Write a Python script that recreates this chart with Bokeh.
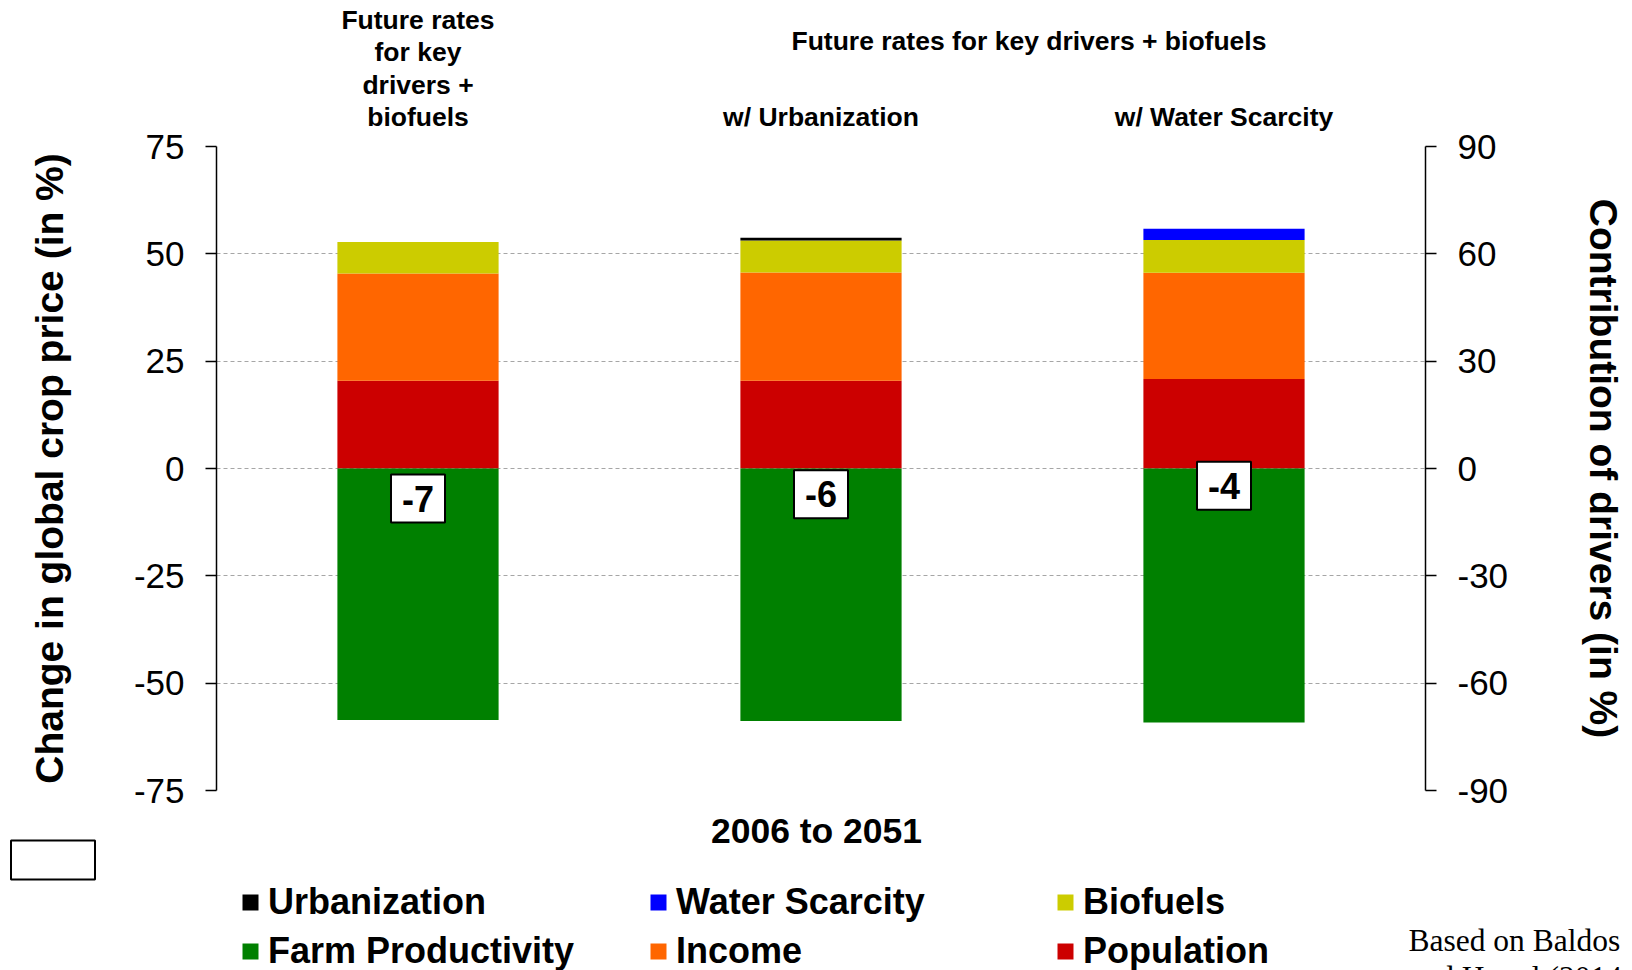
from bokeh.plotting import figure
from bokeh.layouts import column
from bokeh.models import (Range1d, LinearAxis, FixedTicker, Label, Legend, LegendItem,
                          ColumnDataSource, BoxAnnotation)
from bokeh.core.properties import value
from bokeh.embed import file_html
from bokeh.resources import INLINE

# ---------------- data ----------------
scenarios = ["Future rates for key drivers + biofuels", "w/ Urbanization", "w/ Water Scarcity"]
top_labels = ["Future rates\nfor key\ndrivers +\nbiofuels", "w/ Urbanization", "w/ Water Scarcity"]
group_header = "Future rates for key drivers + biofuels"
period = "2006 to 2051"
source_note = ["Based on Baldos", "and Hertel (2014a)"]
left_title = "Change in global crop price (in %)"
right_title = "Contribution of drivers (in %)"

# contributions of drivers (in %), right axis
population = [24.5, 24.5, 25.0]
income = [30.0, 30.3, 29.7]
biofuels = [8.8, 8.9, 9.2]
urbanization = [0.0, 0.8, 0.0]
water_scarcity = [0.0, 0.0, 3.1]
farm_productivity = [-70.3, -70.6, -71.0]
# net change in global crop price (in %), left axis
net_price = [-7, -6, -4]

price_ticks = [-75, -50, -25, 0, 25, 50, 75]
contrib_ticks = [-90, -60, -30, 0, 30, 60, 90]

driver_names = ["Population", "Income", "Biofuels", "Urbanization", "Water Scarcity",
                "Farm Productivity"]
driver_colors = ["#CC0000", "#FF6600", "#CCCC00", "#000000", "#0000FF", "#008000"]

FONT = "Liberation Sans"
W = 1632
ML, MR = 216, 207          # left / right borders of the plotting frame
TOP_H, MAIN_H = 132, 680   # heights of the header strip and of the main chart
BOT_Y0 = TOP_H + MAIN_H    # page y where the lower strip starts

src = ColumnDataSource(dict(cat=scenarios, Population=population, Income=income,
                            Biofuels=biofuels, Urbanization=urbanization,
                            Water=water_scarcity, Farm=farm_productivity))

# ---------------- main chart ----------------
p = figure(width=W, height=MAIN_H, x_range=scenarios, y_range=Range1d(-90, 90),
           y_axis_location="right", x_axis_location=None,
           output_backend="svg", toolbar_location=None,
           min_border_left=ML, min_border_right=MR, min_border_top=14,
           min_border_bottom=22, outline_line_color=None,
           background_fill_color="white", border_fill_color="white")
p.extra_y_ranges = {"price": Range1d(-75, 75)}

right_ax = p.right[0]
left_ax = LinearAxis(y_range_name="price", ticker=FixedTicker(ticks=price_ticks),
                     major_label_overrides={t: str(t) for t in price_ticks})
p.add_layout(left_ax, "left")
right_ax.ticker = FixedTicker(ticks=contrib_ticks)
right_ax.major_label_overrides = {t: str(t) for t in contrib_ticks}

for ax in (left_ax, right_ax):
    ax.axis_line_color = "black"
    ax.axis_line_width = 1.5
    ax.major_tick_line_color = "black"
    ax.major_tick_line_width = 1.5
    ax.major_tick_out = 11
    ax.major_tick_in = 0
    ax.minor_tick_line_color = None
    ax.major_label_standoff = 21
    ax.major_label_text_font = FONT
    ax.major_label_text_font_size = "35px"
    ax.major_label_text_color = "black"

# axis titles (outer axes carrying only the title, centred a little low as in the original)
lt = LinearAxis(y_range_name="price", ticker=FixedTicker(ticks=[]), bounds=(-75, 61),
                axis_label=left_title)
rt = LinearAxis(ticker=FixedTicker(ticks=[]), bounds=(-90, 80), axis_label=right_title)
for ax, st in ((lt, 60), (rt, 70)):
    ax.axis_line_color = None
    ax.major_tick_line_color = None
    ax.minor_tick_line_color = None
    ax.major_tick_out = 0
    ax.minor_tick_out = 0
    ax.major_label_standoff = 0
    ax.axis_label_text_font = FONT
    ax.axis_label_text_font_size = "39px"
    ax.axis_label_text_font_style = "bold"
    ax.axis_label_text_color = "black"
    ax.axis_label_standoff = st
p.add_layout(lt, "left")
p.add_layout(rt, "right")

p.xgrid.visible = False
p.ygrid.ticker = FixedTicker(ticks=contrib_ticks)
p.ygrid.grid_line_color = "#a6a6a6"
p.ygrid.grid_line_dash = "4 3"
p.ygrid.grid_line_width = 1

stackers = ["Population", "Income", "Biofuels", "Urbanization", "Water"]
p.vbar_stack(stackers, x="cat", width=0.4, color=driver_colors[:5], line_color=None,
             source=src)
p.vbar(x="cat", top="Farm", bottom=0, width=0.4, fill_color=driver_colors[5],
       line_color=None, source=src)

# net price change labels (positioned at the net value on the price axis)
for i, v in enumerate(net_price):
    p.add_layout(Label(x=i + 0.5, y=v, y_range_name="price", text=str(v), text_font=FONT,
                       text_font_size="36px", text_font_style="bold", text_color="black",
                       text_align="center", text_baseline="middle",
                       background_fill_color="white", border_line_color="black",
                       border_line_width=2, padding=11))

# ---------------- headers above the chart ----------------
top = figure(width=W, height=TOP_H, x_range=p.x_range, y_range=Range1d(TOP_H, 0),
             x_axis_location=None, y_axis_location=None, output_backend="svg",
             toolbar_location=None, min_border_left=ML, min_border_right=MR,
             min_border_top=0, min_border_bottom=0, outline_line_color=None)
top.grid.visible = False
top.text(x=scenarios, y=[68, 116, 116], text=top_labels, text_font=value(FONT),
         text_font_size="26.5px", text_font_style="bold", text_color="black",
         text_align="center", text_baseline="middle", text_line_height=1.07)
top.text(x=[2.016], y=[40], text=[group_header], text_font=value(FONT),
         text_font_size="26.5px", text_font_style="bold", text_color="black",
         text_align="center", text_baseline="middle")

# ---------------- axis title, legend and note below ----------------
bot = figure(width=W, height=970 - BOT_Y0, x_range=Range1d(0, W),
             y_range=Range1d(970, BOT_Y0),
             x_axis_location=None, y_axis_location=None, output_backend="svg",
             toolbar_location=None, min_border_left=0, min_border_right=0,
             min_border_top=0, min_border_bottom=0, outline_line_color=None)
bot.frame_align = False
bot.grid.visible = False
bot.text(x=[816], y=[830], text=[period], text_font=value(FONT), text_font_size="35.5px",
         text_font_style="bold", text_color="black", text_align="center",
         text_baseline="middle")
bot.text(x=[1408, 1408], y=[940, 977], text=source_note,
         text_font=value("Liberation Serif"), text_font_size="31.5px",
         text_color="black", text_align="left", text_baseline="middle")
bot.add_layout(BoxAnnotation(left=10.5, right=94.5, top=840, bottom=879,
                             fill_color="white", fill_alpha=1, line_color="black",
                             line_alpha=1, line_width=2))

# legend proxies (hidden renderers, only used for the legend swatches)
proxy = {}
for name, c in zip(driver_names, driver_colors):
    proxy[name] = bot.vbar(x=[0], top=[0], width=1, fill_color=c, line_color=None,
                           visible=False)

cols = [["Urbanization", "Farm Productivity"],
        ["Water Scarcity", "Income"],
        ["Biofuels", "Population"]]
xs = [240, 648, 1055]
for x0, col in zip(xs, cols):
    leg = Legend(items=[LegendItem(label=n, renderers=[proxy[n]]) for n in col],
                 location=(x0, -2), orientation="vertical", click_policy="none",
                 glyph_width=20, glyph_height=20, label_standoff=8, spacing=7,
                 padding=0, margin=0, border_line_color=None, background_fill_alpha=0,
                 inactive_fill_alpha=0,
                 label_text_font=FONT, label_text_font_size="36px",
                 label_text_font_style="bold", label_text_color="black")
    bot.add_layout(leg, "center")

layout = column(top, p, bot, spacing=0)
open("out.html", "w").write(file_html(layout, INLINE))
